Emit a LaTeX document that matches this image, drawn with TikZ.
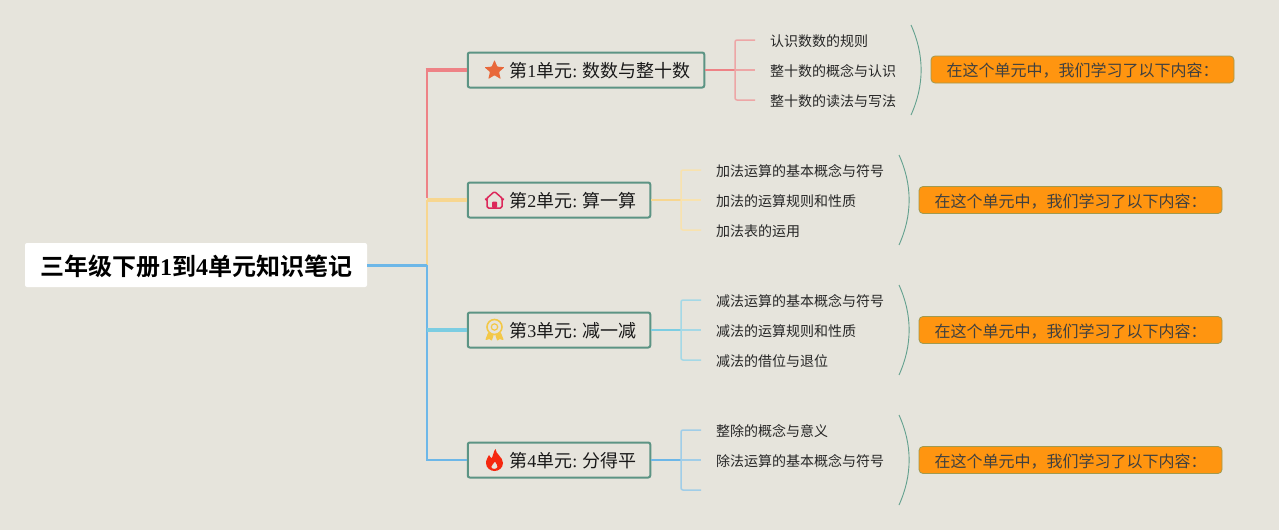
\documentclass[tikz,border=0pt]{standalone}
\usepackage{fontspec}
\usetikzlibrary{shapes.geometric,calc}
\setmainfont{Liberation Serif}
\newfontfamily\cjk{Noto Sans CJK SC}
\newfontfamily\cjkb[BoldFont={Noto Sans CJK SC Bold}]{Noto Sans CJK SC Bold}
\definecolor{bgc}{HTML}{E6E4DC}
\definecolor{boxline}{HTML}{5C9484}
\definecolor{c1}{HTML}{EE8286}
\definecolor{c2}{HTML}{F7D690}
\definecolor{c3}{HTML}{7CCDE2}
\definecolor{c4}{HTML}{6DB7E8}
\definecolor{l1}{HTML}{EDA6A6}
\definecolor{l2}{HTML}{F8E2AE}
\definecolor{l3}{HTML}{A4D8E6}
\definecolor{l4}{HTML}{A0CDE8}
\definecolor{orangebox}{HTML}{FF9510}
\definecolor{orangeline}{HTML}{A09A50}
\definecolor{arcline}{HTML}{62A08E}
\definecolor{staric}{HTML}{E8683A}
\definecolor{houseic}{HTML}{DC285A}
\definecolor{medic}{HTML}{F3C848}
\definecolor{flameic}{HTML}{F5280F}
\tikzset{
  x=1pt,y=-1pt,
  rootbox/.style={fill=white,rounded corners=2pt,minimum width=342pt,minimum height=44pt,inner sep=0pt,text height=21.6pt,text depth=0pt,font=\fontsize{24}{24}\selectfont\bfseries,text=black},
  unitbox/.style={draw=boxline,line width=2pt,fill=bgc,rounded corners=2pt,minimum height=35pt,inner xsep=14pt,inner ysep=0pt,text height=15.6pt,text depth=0pt,font=\fontsize{18}{18}\selectfont,text=black!90},
  leaf/.style={anchor=west,inner sep=0pt,font=\cjk\fontsize{14}{14}\selectfont,text=black!85},
  note/.style={draw=orangeline,line width=.8pt,fill=orangebox,rounded corners=4pt,minimum width=303pt,minimum height=27pt,inner sep=0pt,text height=14.6pt,text depth=0pt,font=\cjk\fontsize{16}{16}\selectfont,text=black!75},
  twig/.style={line width=1.5pt,rounded corners=2pt},
  stem/.style={line width=1.8pt},
  arcstyle/.style={draw=arcline,line width=.9pt},
}
\newcommand{\cj}[1]{{\cjk #1}}
\newcommand{\cjb}[1]{{\cjkb #1}}
\newcommand{\colsp}{:\hspace{5pt}}
\begin{document}
\begin{tikzpicture}
\useasboundingbox (0,0) rectangle (1279,530);
\fill[bgc] (0,0) rectangle (1279,530);

\node[rootbox] (root) at (196,265) {\cjb{三年级下册}1\cjb{到}4\cjb{单元知识笔记}};
\node[unitbox] (u1) at (586,70) {\hspace*{27.5pt}\cj{第}1\cj{单元}\colsp\cj{数数与整十数}};
\node[unitbox] (u2) at (559,200) {\hspace*{27.5pt}\cj{第}2\cj{单元}\colsp\cj{算一算}};
\node[unitbox] (u3) at (559,330) {\hspace*{27.5pt}\cj{第}3\cj{单元}\colsp\cj{减一减}};
\node[unitbox] (u4) at (559,460) {\hspace*{27.5pt}\cj{第}4\cj{单元}\colsp\cj{分得平}};
\coordinate (hub) at (427,265);

% trunk connectors
\draw[c2,line width=2.7pt] (hub) -- (hub|-u2.west);
\draw[c4,line width=3pt] (root.east) -- (hub);
\draw[c4,line width=2.7pt] (hub) -- (hub|-u3.west);
\draw[c4,line width=2pt,line join=miter] (hub|-u3.west) -- (hub|-u4.west) -- (u4.west);
\draw[c3,line width=3.2pt] (hub|-u3.west) -- (u3.west);
\draw[c2,line width=3.2pt] (hub|-u2.west) -- (u2.west);
\draw[c1,line width=2.8pt] ($(hub|-u2.west)+(0,-2)$) -- (hub|-u1.west);
\draw[c1,line width=3.5pt] ($(hub|-u1.west)+(-1.4,0)$) -- (u1.west);

% leaves
\node[leaf] (a1) at (770,41) {认识数数的规则};
\node[leaf] (a2) at (770,71) {整十数的概念与认识};
\node[leaf] (a3) at (770,101) {整十数的读法与写法};
\node[leaf] (b1) at (716,171) {加法运算的基本概念与符号};
\node[leaf] (b2) at (716,201) {加法的运算规则和性质};
\node[leaf] (b3) at (716,231) {加法表的运用};
\node[leaf] (c1n) at (716,301) {减法运算的基本概念与符号};
\node[leaf] (c2n) at (716,331) {减法的运算规则和性质};
\node[leaf] (c3n) at (716,361) {减法的借位与退位};
\node[leaf] (d1) at (716,431) {整除的概念与意义};
\node[leaf] (d2) at (716,461) {除法运算的基本概念与符号};

% junctions and free twig ends
\coordinate (ja) at (735,70);
\coordinate (jb) at (681,200);
\coordinate (jc) at (681,330);
\coordinate (jd) at (681,460);
\coordinate (a1e) at (755,40);
\coordinate (a2e) at (755,70);
\coordinate (a3e) at (755,100);
\coordinate (b1e) at (701,170);
\coordinate (b2e) at (701,200);
\coordinate (b3e) at (701,230);
\coordinate (c1e) at (701,300);
\coordinate (c2e) at (701,330);
\coordinate (c3e) at (701,360);
\coordinate (d1e) at (701,430);
\coordinate (d2e) at (701,460);
\coordinate (d3e) at (701,490);

\draw[c1,stem] (u1.east) -- (ja);
\draw[l1,twig] (ja) -- (a2e);
\draw[l1,twig] (a1e) -- (a1e-|ja) -- (a3e-|ja) -- (a3e);
\draw[c2,stem] (u2.east) -- (jb);
\draw[l2,twig] (jb) -- (b2e);
\draw[l2,twig] (b1e) -- (b1e-|jb) -- (b3e-|jb) -- (b3e);
\draw[c3,stem] (u3.east) -- (jc);
\draw[l3,twig] (jc) -- (c2e);
\draw[l3,twig] (c1e) -- (c1e-|jc) -- (c3e-|jc) -- (c3e);
\draw[c4,stem] (u4.east) -- (jd);
\draw[l4,twig] (jd) -- (d2e);
\draw[l4,twig] (d1e) -- (d1e-|jd) -- (d3e-|jd) -- (d3e);

% arcs
\coordinate (arcA) at (911,70);
\coordinate (arcB) at (899,200);
\coordinate (arcC) at (899,330);
\coordinate (arcD) at (899,460);
\foreach \p in {arcA,arcB,arcC,arcD}{
  \draw[arcstyle] ($(\p)+(0,-45)$) .. controls ($(\p)+(13.5,-15)$) and ($(\p)+(13.5,15)$) .. ($(\p)+(0,45)$);
}

% notes
\node[note] (na) at (1082.5,69.5) {在这个单元中，我们学习了以下内容：};
\node[note] (nb) at (1070.5,200) {在这个单元中，我们学习了以下内容：};
\node[note] (nc) at (1070.5,330) {在这个单元中，我们学习了以下内容：};
\node[note] (nd) at (1070.5,460) {在这个单元中，我们学习了以下内容：};

% icons
\coordinate (ic1) at (494.5,70.5);
\coordinate (ic2) at (494.5,200);
\coordinate (ic3) at (494.5,330);
\coordinate (ic4) at (494.5,460);
\node[star,star points=5,star point ratio=2.2,fill=staric,rounded corners=.7pt,inner sep=0pt,minimum size=21pt] (staricon) at (ic1) {};
\begin{scope}[shift={(ic2)}]
  \draw[houseic,line width=1.5pt,line join=round,rounded corners=1.5pt]
    (-8.5,-1) -- (0,-8.5) -- (8.5,-1) -- (7.5,-1) -- (7.5,8) -- (-7.5,8) -- (-7.5,-1) -- cycle;
  \fill[houseic,rounded corners=1pt] (-2.5,8) rectangle (2.5,1.5);
\end{scope}
\begin{scope}[shift={(ic3)}]
  \draw[medic,line width=1.6pt] (0,-3) circle[radius=7.5pt];
  \draw[medic,line width=1.2pt] (0,-3) circle[radius=3.2pt];
  \draw[medic,fill=medic,line width=1pt,line join=round] (-6,3) -- (-8.5,9.5) -- (-5,8.5) -- (-3,10) -- (-1.5,5.5) -- cycle;
  \draw[medic,fill=medic,line width=1pt,line join=round] (6,3) -- (8.5,9.5) -- (5,8.5) -- (3,10) -- (1.5,5.5) -- cycle;
\end{scope}
\begin{scope}[shift={(ic4)}]
  \fill[flameic,even odd rule]
    (1,-11) .. controls (1,-6) and (8.5,-3) .. (8.5,3)
    .. controls (8.5,8) and (4,11) .. (0,11)
    .. controls (-4,11) and (-8.5,8) .. (-8.5,3)
    .. controls (-8.5,-1) and (-6.5,-2) .. (-5.5,-5)
    .. controls (-4.5,-3) and (-3.5,-2) .. (-2.5,-2)
    .. controls (-1,-5) and (-1,-9) .. (1,-11) -- cycle
    (0.5,1.5) .. controls (1.5,4) and (3.5,5) .. (3,7)
    .. controls (2.5,9.5) and (-3,9.5) .. (-3.3,7)
    .. controls (-3.5,5) and (-0.5,4) .. (0.5,1.5) -- cycle;
\end{scope}
\end{tikzpicture}
\end{document}
